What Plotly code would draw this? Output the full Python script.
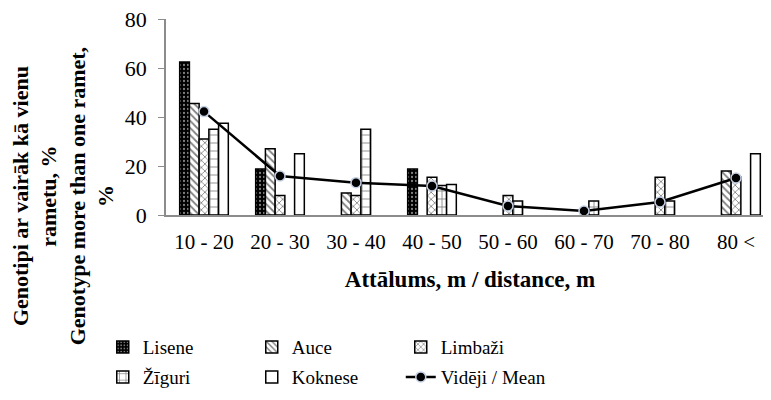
import plotly.graph_objects as go

categories = ["10 - 20", "20 - 30", "30 - 40", "40 - 50", "50 - 60", "60 - 70", "70 - 80", "80 <"]
lisene = [62.5, 18.8, None, 18.8, None, None, None, None]
auce = [45.5, 27.0, 9.0, None, None, None, None, 18.0]
limbazi = [31.0, 8.0, 8.0, 15.4, 8.0, None, 15.4, 15.5]
ziguri = [35.0, None, 35.0, 12.0, 5.7, 5.7, 5.7, None]
koknese = [37.5, 25.0, None, 12.5, None, None, None, 25.0]
mean_vals = [42.2, 15.9, 13.2, 11.8, 3.7, 1.6, 5.3, 15.1]

FONT = "Liberation Serif"

series = [
    ("Lisene", lisene, dict(shape=".", fgcolor="white", bgcolor="black", size=4, solidity=0.25), "black", "legend"),
    ("Auce", auce, dict(shape="\\", fgcolor="black", bgcolor="white", size=5, solidity=0.35), "white", "legend"),
    ("Limbaži", limbazi, dict(shape="x", fgcolor="black", bgcolor="white", size=5, solidity=0.3), "white", "legend"),
    ("Žīguri", ziguri, dict(shape="+", fgcolor="black", bgcolor="white", size=8, solidity=0.2), "white", "legend2"),
    ("Koknese", koknese, None, "white", "legend2"),
]

fig = go.Figure()
for name, vals, pat, col, leg in series:
    marker = dict(color=col, line=dict(color="black", width=1.5))
    if pat is not None:
        marker["pattern"] = dict(pat, fillmode="overlay")
    fig.add_trace(go.Bar(x=categories, y=vals, name=name, marker=marker, legend=leg))

fig.add_trace(go.Scatter(
    x=categories, y=mean_vals, name="Vidēji / Mean", mode="lines+markers",
    line=dict(color="black", width=2.5),
    marker=dict(color="black", size=10, line=dict(color="#c5d0e4", width=1.5)),
    legend="legend2",
))

fig.update_layout(
    width=771, height=400,
    margin=dict(l=158, r=5, t=11, b=193, autoexpand=False),
    paper_bgcolor="white", plot_bgcolor="white",
    font=dict(family=FONT, size=20, color="black"),
    barmode="group", bargap=0.36, bargroupgap=0,
    xaxis=dict(
        type="category", range=[-0.5, 7.5], showline=True, linecolor="#8c8c8c", linewidth=1.5,
        ticks="", showgrid=False, tickfont=dict(size=21, family=FONT), ticklabelstandoff=7,
        title=dict(text="<b>Attālums, m / distance, m</b>", font=dict(size=23, family=FONT), standoff=18),
    ),
    yaxis=dict(
        range=[0, 80], dtick=20, showline=True, linecolor="#8c8c8c", linewidth=1.5,
        ticks="outside", ticklen=6, tickcolor="#8c8c8c", showgrid=False, zeroline=False,
        tickfont=dict(size=22, family=FONT), ticklabelstandoff=7, ticklabeloverflow="allow",
    ),
    legend=dict(orientation="h", x=-0.104, y=-0.577, xanchor="left", yanchor="top",
                entrywidth=104, font=dict(size=19, family=FONT), traceorder="normal",
                bgcolor="rgba(0,0,0,0)"),
    legend2=dict(orientation="h", x=-0.104, y=-0.73, xanchor="left", yanchor="top",
                 entrywidth=104, font=dict(size=19, family=FONT), traceorder="normal",
                 bgcolor="rgba(0,0,0,0)"),
    annotations=[dict(
        text="<b>Genotipi ar vairāk kā vienu<br>rametu, %<br>Genotype more than one ramet,<br>%</b>",
        textangle=-90, xref="paper", yref="paper", x=-0.075, y=0.095, xanchor="right", yanchor="middle",
        showarrow=False, font=dict(size=22, family=FONT), align="center",
    )],
)

fig.write_html("out.html")
